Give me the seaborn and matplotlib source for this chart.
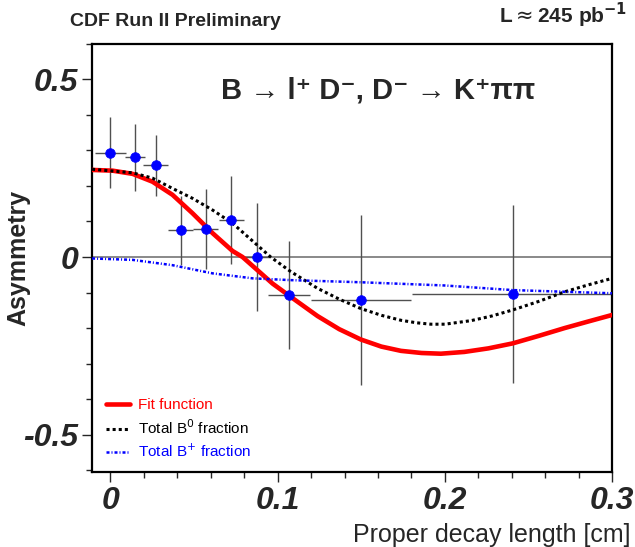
import numpy as np
import pandas as pd
import matplotlib
matplotlib.use("Agg")
import matplotlib.pyplot as plt
import seaborn as sns
from matplotlib.lines import Line2D

# puntos medidos (asimetria vs longitud de decaimiento)
x_pts = [0.0, 0.0146, 0.0272, 0.0421, 0.057, 0.0723, 0.0874, 0.107, 0.1497, 0.2405]
y_pts = [0.294, 0.280, 0.258, 0.075, 0.078, 0.104, 0.0, -0.107, -0.121, -0.104]
y_err = [0.100, 0.095, 0.085, 0.097, 0.112, 0.125, 0.153, 0.152, 0.240, 0.250]
x_err = [0.009, 0.006, 0.0075, 0.0075, 0.0075, 0.0075, 0.0075, 0.0126, 0.030, 0.060]

# curva del ajuste
fit_x = [-0.011, 0.0012, 0.0132, 0.0251, 0.0371, 0.0491, 0.0611, 0.073, 0.079, 0.085,
         0.097, 0.1078, 0.1238, 0.1368, 0.1497, 0.162, 0.1737, 0.186, 0.1976, 0.2116,
         0.226, 0.2405, 0.256, 0.2715, 0.286, 0.3]
fit_y = [0.245, 0.243, 0.234, 0.212, 0.175, 0.123, 0.067, 0.017, 0.0, -0.025,
         -0.075, -0.112, -0.166, -0.203, -0.232, -0.252, -0.264, -0.270, -0.272, -0.267,
         -0.257, -0.243, -0.222, -0.200, -0.181, -0.163]

# fraccion total B0
b0_x = [-0.011, 0.0132, 0.0251, 0.0371, 0.0491, 0.0611, 0.073, 0.085, 0.0958, 0.1078,
        0.1238, 0.137, 0.1497, 0.162, 0.1737, 0.183, 0.1916, 0.2, 0.2156, 0.228,
        0.2405, 0.256, 0.2715, 0.286, 0.3]
b0_y = [0.247, 0.237, 0.222, 0.193, 0.165, 0.132, 0.095, 0.045, 0.0, -0.041,
        -0.088, -0.119, -0.145, -0.164, -0.178, -0.185, -0.189, -0.189, -0.179, -0.166,
        -0.149, -0.125, -0.098, -0.078, -0.060]

# fraccion total B+
bp_x = [-0.011, 0.0132, 0.0371, 0.0611, 0.085, 0.1078, 0.1497, 0.1996, 0.2405, 0.3]
bp_y = [-0.004, -0.008, -0.023, -0.046, -0.060, -0.065, -0.071, -0.080, -0.093, -0.102]

sns.set_style("ticks")
plt.rcParams['font.family'] = ['Liberation Sans', 'DejaVu Sans']

fig = plt.figure(figsize=(6.35, 5.47), dpi=100)
ax = fig.add_axes([0.145, 0.137, 0.819, 0.783])

ax.axhline(0, color="#808080", lw=1.3, zorder=1)

dots = (0, (1, 1))
dashdot = (0, (1.2, 0.8, 0.4, 0.8))
sns.lineplot(x=fit_x, y=fit_y, ax=ax, color="red", lw=3.3, zorder=3, estimator=None, sort=False)
sns.lineplot(x=b0_x, y=b0_y, ax=ax, color="black", lw=2.2, zorder=3, estimator=None, sort=False,
             linestyle=dots)
sns.lineplot(x=bp_x, y=bp_y, ax=ax, color="blue", lw=1.8, zorder=3, estimator=None, sort=False,
             linestyle=dashdot)

ax.errorbar(x_pts, y_pts, yerr=y_err, xerr=x_err, fmt="none", ecolor="#505050",
            elinewidth=1, capsize=0, zorder=2)
sns.scatterplot(x=x_pts, y=y_pts, ax=ax, color="blue", s=48, edgecolor="blue", zorder=4)

ax.set_xlim(-0.011, 0.3)
ax.set_ylim(-0.605, 0.6)
ax.set_xticks([0, 0.1, 0.2, 0.3])
ax.set_xticklabels(["0", "0.1", "0.2", "0.3"])
ax.set_yticks([-0.5, 0, 0.5])
ax.set_yticklabels(["-0.5", "0", "0.5"])
ax.set_xticks(np.arange(0, 0.3001, 0.02), minor=True)
ax.set_yticks(np.arange(-0.6, 0.6001, 0.1), minor=True)
ax.tick_params(which="major", length=7, width=1, direction="out", pad=3)
ax.tick_params(which="minor", length=4, width=1, direction="out")
for lab in ax.get_xticklabels() + ax.get_yticklabels():
    lab.set_fontsize(23)
    lab.set_fontweight("bold")
    lab.set_fontstyle("italic")
for sp in ax.spines.values():
    sp.set_linewidth(1.6)
    sp.set_color("black")

ax.set_ylabel("Asymmetry", fontsize=18, fontweight="bold")
ax.yaxis.set_label_coords(-0.118, 0.5)
ax.set_xlabel("Proper decay length [cm]", fontsize=18)
ax.xaxis.set_label_coords(1.035, -0.12)
ax.xaxis.label.set_horizontalalignment("right")

fig.text(0.11, 0.945, "CDF Run II Preliminary", fontsize=14, fontweight="bold", ha="left", va="bottom")
fig.text(0.987, 0.945, r"L$\approx$245 pb$^{\mathbf{-1}}$", fontsize=15, fontweight="bold",
         ha="right", va="bottom")
ax.text(0.55, 0.89, "B → l⁺ D⁻, D⁻ → K⁺ππ", transform=ax.transAxes, fontsize=21,
        fontweight="bold", ha="center", va="center")

handles = [Line2D([], [], color="red", lw=3.3),
           Line2D([], [], color="black", lw=2.2, linestyle=dots),
           Line2D([], [], color="blue", lw=1.8, linestyle=dashdot)]
labels = ["Fit function", r"Total B$^0$ fraction", r"Total B$^{+}$ fraction"]
ax.legend(handles, labels, loc="lower left", bbox_to_anchor=(0.0, -0.005), frameon=False,
          fontsize=11, handlelength=1.6, handletextpad=0.5, labelspacing=0.4,
          labelcolor=["red", "black", "blue"])

fig.savefig("out.png", dpi=100)
